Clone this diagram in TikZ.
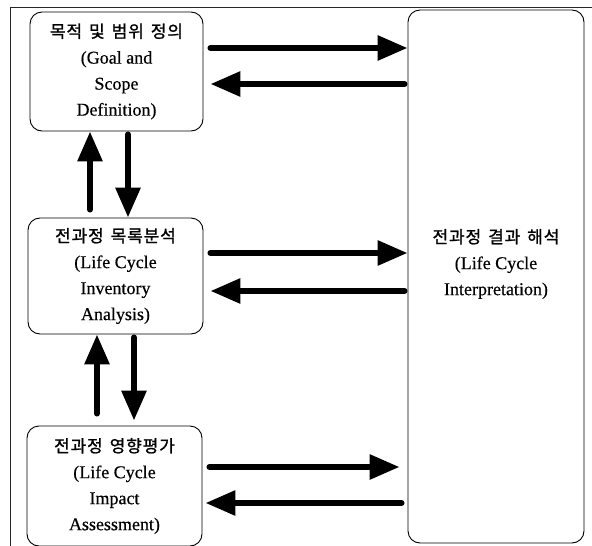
\documentclass[tikz,border=0pt]{standalone}
\usepackage{fontspec}
\setmainfont{Liberation Serif}[FakeBold=0.4]
\newfontfamily\kr{Noto Sans CJK KR}[LetterSpace=5,FakeBold=1.2,WordSpace=1.5]
\usetikzlibrary{arrows.meta}
\tikzset{
  box/.style={draw, line width=0.9pt, rounded corners=12pt, align=center,
    font=\fontsize{18}{26}\selectfont, inner sep=0pt},
  txt/.style={align=center, font=\fontsize{18}{26}\selectfont, inner sep=0pt},
  fat/.style={line width=6pt, line cap=round, -{Triangle[length=30pt,width=24pt]}},
  frame/.style={line width=0.8pt, black!85}
}
\newcommand{\krl}[1]{{\kr\fontsize{17}{26}\selectfont #1}}
\begin{document}
\begin{tikzpicture}[x=1pt,y=-1pt]
\useasboundingbox (0,0) rectangle (592,546);
\draw[frame] (10,546) -- (10,7) -- (592,7);

\node[box, minimum width=173pt, minimum height=119pt] (b1) at (116.5,71.5)
  {\krl{목적 및 범위 정의}\\(Goal and\\Scope\\Definition)};
\node[box, minimum width=175pt, minimum height=116pt] (b2) at (115.5,276)
  {\krl{전과정 목록분석}\\(Life Cycle\\Inventory\\Analysis)};
\node[box, minimum width=175pt, minimum height=120pt] (b3) at (114.5,486)
  {\krl{전과정 영향평가}\\(Life Cycle\\Impact\\Assessment)};
\node[box, minimum width=176pt, minimum height=533pt] (b4) at (496,276.5) {};
\node[txt] (b4t) at (496,264)
  {\krl{전과정 결과 해석}\\(Life Cycle\\Interpretation)};

% horizontal arrows
\draw[fat, shorten <=7pt] (b1.east |- 0,48) -- (b4.west |- 0,48);
\draw[fat, shorten <=3pt, shorten >=7pt] (b4.west |- 0,84) -- (b1.east |- 0,84);
\draw[fat, shorten <=7pt] (b2.east |- 0,253) -- (b4.west |- 0,253);
\draw[fat, shorten <=3pt, shorten >=7pt] (b4.west |- 0,291) -- (b2.east |- 0,291);
\draw[fat, shorten <=7pt, shorten >=8pt] (b3.east |- 0,467) -- (b4.west |- 0,467);
\draw[fat, shorten <=6pt, shorten >=3pt] (b4.west |- 0,503) -- (b3.east |- 0,503);

% vertical arrows
\draw[fat, shorten <=8pt] (b2.north -| 90,0) -- (b1.south -| 90,0);
\draw[fat, shorten <=3pt] (b1.south -| 128,0) -- (b2.north -| 128,0);
\draw[fat, shorten <=12pt] (b3.north -| 97,0) -- (b2.south -| 97,0);
\draw[fat, shorten <=3pt, shorten >=5pt] (b2.south -| 134,0) -- (b3.north -| 134,0);
\end{tikzpicture}
\end{document}
